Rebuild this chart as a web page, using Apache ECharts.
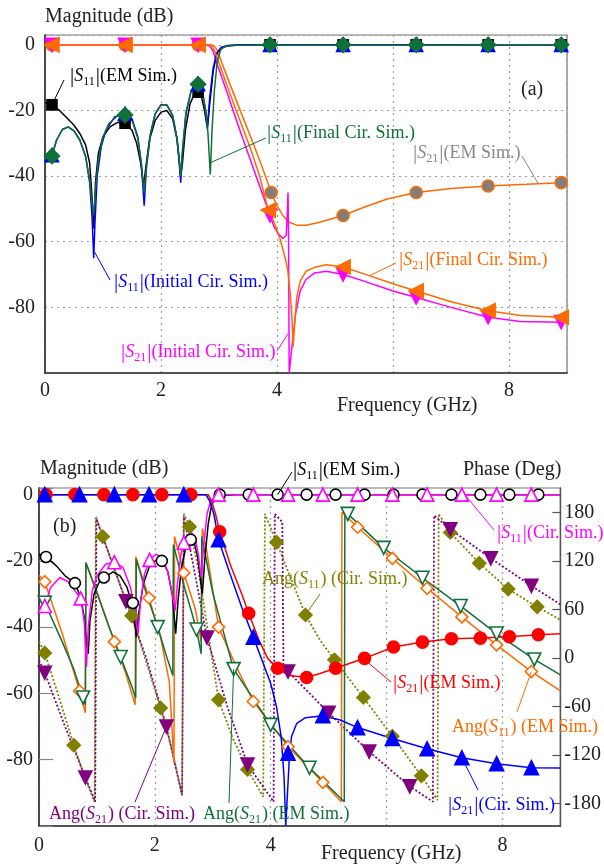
<!DOCTYPE html>
<html><head><meta charset="utf-8">
<script src="https://cdn.jsdelivr.net/npm/echarts@6.0.0/dist/echarts.min.js"></script>
<style>html,body{margin:0;padding:0;background:#fff}#c{width:604px;height:865px}</style>
</head><body><div id="c"></div><script>
// ---------- panel (a): magnitude responses ----------
const aS11Em = [[0,-17.6],[0.12,-18.3],[0.25,-20],[0.38,-22.3],[0.5,-24.5],[0.6,-27],[0.7,-30.5],[0.77,-36],[0.81,-46],[0.84,-56],[0.87,-42],[0.92,-33],[1.0,-28],[1.12,-25],[1.25,-23.6],[1.38,-23.9],[1.5,-26],[1.58,-30],[1.65,-36],[1.7,-43],[1.74,-37],[1.8,-29],[1.9,-23],[2.0,-20.5],[2.1,-20],[2.2,-22.5],[2.28,-29],[2.34,-40],[2.37,-36],[2.42,-26],[2.5,-18],[2.58,-14.8],[2.64,-14.4],[2.7,-16],[2.75,-20],[2.8,-25.5],[2.84,-18],[2.9,-8],[2.96,-3],[3.04,-1],[3.15,-0.3],[3.4,0],[9,0]];
const aS11Init = [[0,-35.5],[0.06,-34.8],[0.12,-33.6],[0.2,-29],[0.3,-25.8],[0.4,-25],[0.5,-26.2],[0.6,-29],[0.7,-34],[0.77,-42],[0.81,-52],[0.84,-65],[0.86,-55],[0.9,-40],[0.97,-31],[1.05,-26],[1.2,-22],[1.38,-21],[1.5,-22.5],[1.6,-28],[1.66,-36],[1.71,-49],[1.75,-37],[1.82,-27],[1.9,-21],[2.0,-18.3],[2.1,-18.3],[2.2,-21.5],[2.27,-28],[2.31,-35],[2.34,-42],[2.37,-33],[2.43,-21],[2.52,-14],[2.6,-11.8],[2.66,-12],[2.72,-15],[2.77,-20],[2.8,-25],[2.84,-16],[2.9,-7],[2.96,-2.5],[3.04,-0.7],[3.15,-0.2],[3.4,0],[9,0]];
const aS11Final = [[0,-36],[0.06,-35],[0.12,-33.9],[0.2,-29],[0.3,-25.8],[0.4,-25],[0.5,-26.2],[0.6,-29],[0.7,-34],[0.77,-41],[0.81,-48],[0.84,-52],[0.87,-44],[0.92,-35],[1.0,-28],[1.1,-24],[1.25,-21.6],[1.38,-21.4],[1.5,-23],[1.6,-28.5],[1.66,-36],[1.71,-45],[1.75,-37],[1.82,-27],[1.9,-21],[2.0,-18.2],[2.1,-18.3],[2.2,-21.5],[2.27,-28],[2.31,-34],[2.34,-40],[2.37,-32],[2.43,-20.5],[2.52,-14],[2.6,-12],[2.66,-12.1],[2.72,-15],[2.77,-20],[2.81,-27],[2.85,-39.5],[2.88,-26],[2.92,-14],[2.97,-5],[3.03,-1.5],[3.1,-0.5],[3.3,-0.1],[9,0]];
const aS21Em = [[0,0],[2.88,0],[2.93,-0.6],[2.98,-2],[3.05,-5.5],[3.2,-12.5],[3.4,-21.5],[3.6,-30.5],[3.75,-37.5],[3.9,-45],[4.0,-49],[4.1,-52],[4.2,-54],[4.35,-55],[4.5,-55],[4.7,-54.2],[4.9,-53.2],[5.14,-52],[5.5,-49.5],[5.9,-47],[6.4,-45],[7.0,-43.8],[7.64,-43],[8.3,-42.5],[8.9,-42],[9,-41.9]];
const aS21Final = [[0,0],[2.83,0],[2.88,-0.6],[2.93,-2],[3.0,-5.5],[3.15,-13],[3.35,-22.5],[3.55,-32],[3.7,-40],[3.85,-50.4],[3.95,-54],[4.05,-59],[4.12,-63.5],[4.18,-68],[4.23,-76],[4.26,-84],[4.28,-92],[4.3,-86],[4.34,-77],[4.4,-72],[4.5,-69],[4.65,-67.8],[4.85,-67],[5.14,-67.7],[5.5,-69.8],[6.0,-72.8],[6.4,-75],[7.0,-78.3],[7.64,-81],[8.2,-82.5],[8.9,-83],[9,-83]];
const aS21Init = [[0,0],[2.8,0],[2.85,-0.6],[2.9,-2],[2.97,-6],[3.12,-13.5],[3.3,-23],[3.5,-33],[3.68,-42],[3.8,-48],[3.88,-52],[3.95,-55.5],[4.02,-57.5],[4.1,-59],[4.16,-58],[4.18,-50],[4.19,-45],[4.2,-60],[4.21,-100],[4.23,-100],[4.27,-90],[4.32,-82],[4.4,-75],[4.5,-71.5],[4.65,-69.5],[4.85,-69],[5.14,-70],[5.5,-72],[6.0,-75],[6.4,-77],[7.0,-80],[7.64,-83],[8.2,-84.3],[8.9,-84.5],[9,-84.5]];
// marker points of panel (a)
const aS11EmMk = [[0.12,-18.3],[1.38,-23.9],[2.64,-14.4],[3.88,0],[5.14,0],[6.4,0],[7.64,0],[8.9,0]];
const aS11InitMk = [[0.12,-33.6],[1.38,-21],[2.64,-12],[3.88,0],[5.14,0],[6.4,0],[7.64,0],[8.9,0]];
const aS11FinalMk = [[0.12,-33.9],[1.38,-21.4],[2.64,-12],[3.88,0],[5.14,0],[6.4,0],[7.64,0],[8.9,0]];
const aS21EmMk = [[0.12,0],[1.38,0],[2.64,0],[3.9,-45],[5.14,-52],[6.4,-45],[7.64,-43],[8.9,-42]];
const aS21FinalMk = [[0.12,0],[1.38,0],[2.64,0],[3.85,-50.4],[5.14,-67.7],[6.4,-75],[7.64,-81],[8.9,-83]];
const aS21InitMk = [[0.12,0],[1.38,0],[2.64,0],[3.88,-52],[5.14,-70],[6.4,-77],[7.64,-83],[8.9,-84.5]];

// ---------- panel (b): magnitude and phase ----------
const bS11Em = [[0,-18],[0.12,-18.8],[0.3,-21.5],[0.45,-24.5],[0.62,-26.7],[0.72,-31],[0.78,-37],[0.82,-45],[0.85,-48],[0.88,-38],[0.95,-30],[1.05,-26],[1.12,-25],[1.28,-23.3],[1.4,-24.5],[1.52,-28],[1.6,-32.7],[1.65,-38],[1.68,-43],[1.72,-36],[1.8,-27],[1.9,-22],[2.0,-20],[2.12,-20],[2.22,-23],[2.3,-30],[2.36,-42],[2.4,-32],[2.46,-22],[2.54,-15.5],[2.62,-13.6],[2.68,-14.5],[2.74,-19],[2.79,-26],[2.82,-30],[2.86,-20],[2.92,-9],[2.98,-3],[3.06,-0.8],[3.2,-0.2],[3.4,0],[9,0]];
const bS11Cir = [[0,-34],[0.1,-33.6],[0.2,-28],[0.36,-25],[0.5,-26.3],[0.62,-29],[0.72,-31.3],[0.78,-38],[0.82,-52],[0.85,-40],[0.92,-29],[1.0,-24.5],[1.15,-21],[1.3,-20.4],[1.45,-22],[1.58,-28],[1.66,-36],[1.71,-42],[1.75,-33],[1.82,-24],[1.91,-19.7],[2.02,-18],[2.12,-19],[2.22,-23],[2.3,-30],[2.35,-35],[2.39,-27],[2.45,-18],[2.5,-14.5],[2.58,-12],[2.64,-11.5],[2.7,-13.5],[2.75,-18],[2.8,-25],[2.84,-16],[2.9,-6],[2.96,-2],[3.04,-0.5],[3.2,0],[9,0]];
const bS21Em = [[0,0],[2.92,0],[2.98,-2],[3.05,-6],[3.12,-11.2],[3.3,-21],[3.5,-30],[3.62,-35.8],[3.8,-44],[3.95,-49.5],[4.12,-52.4],[4.3,-54.5],[4.62,-55.2],[4.85,-54],[5.12,-52.4],[5.62,-49.4],[6.12,-46],[6.62,-44.5],[7.12,-43.5],[7.62,-43.3],[8.12,-42.9],[8.62,-42.3],[9,-42]];
const bS21Cir = [[0,0],[2.88,0],[2.95,-2],[3.02,-6],[3.1,-13.6],[3.3,-24],[3.5,-34],[3.7,-43],[3.85,-50],[4.0,-57],[4.1,-64],[4.18,-73],[4.23,-85],[4.26,-100],[4.29,-100],[4.32,-80],[4.36,-73],[4.45,-69],[4.6,-67.3],[4.9,-66.7],[5.2,-68],[5.5,-70.3],[6.1,-73.6],[6.7,-76.7],[7.3,-79.4],[7.9,-81.2],[8.5,-82.4],[9,-82.5]];
const bAngS11Cir = [[0,20],[0.1,6],[0.35,-50],[0.6,-108],[0.8,-150],[0.96,-178],[0.98,175],[1.1,150],[1.35,100],[1.6,52],[1.85,-5],[2.1,-62],[2.3,-115],[2.47,-170],[2.5,178],[2.6,162],[2.75,110],[2.9,40],[3.1,-52],[3.35,-100],[3.6,-138],[3.87,-172],[3.9,178],[4.1,143],[4.35,98],[4.6,53],[4.85,22],[5.1,-2.5],[5.6,-49],[6.1,-97],[6.6,-146],[6.88,-176],[6.9,178],[7.1,155],[7.6,117],[8.1,85],[8.6,63],[9,47]];
const bAngS11Em = [[0,102],[0.1,94],[0.4,30],[0.7,-41],[0.8,-68],[0.81,117],[1.0,82],[1.3,20],[1.5,-20],[1.66,-58],[1.67,125],[1.9,74],[2.1,25],[2.25,-30],[2.33,-130],[2.34,150],[2.5,105],[2.7,60],[2.8,20],[2.82,160],[2.9,130],[3.1,38],[3.4,-10],[3.7,-54],[4.3,-110],[4.9,-154],[5.22,-178],[5.23,180],[5.5,161.5],[6.1,123],[6.7,86],[7.3,50.6],[7.9,16],[8.5,-17],[9,-41]];
const bAngS21Cir = [[0,-3],[0.1,-18.5],[0.45,-85],[0.8,-148],[0.97,-178],[0.99,172],[1.5,70],[1.85,0],[2.2,-85],[2.47,-170],[2.5,176],[2.9,25],[3.25,-60],[3.6,-132],[4.05,-178],[4.07,178],[4.2,168],[4.22,-8],[4.3,-17],[5.0,-68],[5.7,-116],[6.4,-159],[6.8,-178],[6.82,176],[7.1,159],[7.8,123],[8.5,89],[9,66]];
const bAngS21Em = [[0,76],[0.1,68],[0.4,20],[0.6,-14],[0.76,-49],[0.8,-58],[0.81,118],[1.0,80],[1.2,40],[1.41,1],[1.6,-35],[1.67,-50],[1.68,122],[1.85,80],[2.05,38],[2.2,2],[2.31,-22],[2.32,140],[2.5,90],[2.72,35],[2.8,5],[2.81,150],[3.0,80],[3.36,-14],[4.0,-83],[4.67,-136],[5.27,-178],[5.28,180],[5.33,178],[5.95,136],[6.62,99],[7.28,64],[7.9,30],[8.55,-2],[9,-21]];
// marker points of panel (b)
const bS11EmMk = [[0.12,-18.8],[0.62,-26.7],[1.12,-25],[1.62,-32.7],[2.12,-20],[2.62,-13.6],[3.12,0],[3.62,0],[4.12,0],[4.62,0],[5.12,0],[5.62,0],[6.12,0],[6.62,0],[7.12,0],[7.62,0],[8.12,0],[8.62,0]];
const bS11CirMk = [[0.1,-33.6],[0.72,-31.3],[1.3,-20.4],[1.91,-19.7],[2.5,-14.5],[3.1,0],[3.7,0],[4.3,0],[4.9,0],[5.5,0],[6.1,0],[6.7,0],[7.3,0],[7.9,0],[8.5,0]];
const bS21EmMk = [[0.12,0],[0.62,0],[1.12,0],[1.62,0],[2.12,0],[2.62,0],[3.12,-11.2],[3.62,-35.8],[4.12,-52.4],[4.62,-55.2],[5.12,-52.4],[5.62,-49.4],[6.12,-46],[6.62,-44.5],[7.12,-43.5],[7.62,-43.3],[8.12,-42.9],[8.62,-42.3]];
const bS21CirMk = [[0.1,0],[0.7,0],[1.3,0],[1.9,0],[2.5,0],[3.1,-13.6],[3.7,-43],[4.3,-78],[4.9,-66.7],[5.5,-70.3],[6.1,-73.6],[6.7,-76.7],[7.3,-79.4],[7.9,-81.2],[8.5,-82.4]];
const bAngS11CirMk = [[0.1,6],[0.6,-108],[1.1,150],[1.6,52],[2.1,-62],[2.6,162],[3.1,-52],[3.6,-138],[4.1,143],[4.6,53],[5.1,-2.5],[5.6,-49],[6.1,-97],[6.6,-146],[7.1,155],[7.6,117],[8.1,85],[8.6,63]];
const bAngS11EmMk = [[0.1,94],[0.7,-41],[1.3,20],[1.9,74],[2.5,105],[3.1,38],[3.7,-54],[4.3,-110],[4.9,-154],[5.5,161.5],[6.1,123],[6.7,86],[7.3,50.6],[7.9,16],[8.5,-17]];
const bAngS21CirMk = [[0.1,-18.5],[0.8,-148],[1.5,70],[2.2,-85],[2.9,25],[3.6,-132],[4.3,-17],[5.0,-68],[5.7,-116],[6.4,-159],[7.1,159],[7.8,123],[8.5,89]];
const bAngS21EmMk = [[0.1,68],[0.76,-49],[1.41,1],[2.05,38],[2.72,35],[3.36,-14],[4.0,-83],[4.67,-136],[5.33,178],[5.95,136],[6.62,99],[7.28,64],[7.9,30],[8.55,-2]];

// tick label sets
const freqTicks = [0, 2, 4, 8];
const dbTicks = [0, -20, -40, -60, -80];
const phaseTicks = [-180, -120, -60, 0, 60, 120, 180];

const FONT = "'Liberation Serif','Times New Roman',serif";
const C = {black:'#000000', blue:'#0000ff', green:'#10703a', orange:'#ff6a00', magenta:'#ff00ff',
  gray:'#7f7f7f', red:'#ff0000', olive:'#808000', purple:'#800080', axis:'#333333'};

const chart = echarts.init(document.getElementById('c'), null, {renderer:'canvas'});

function line(data, color, xi, yi, z, dash) {
  return {type:'line', data, xAxisIndex:xi, yAxisIndex:yi, showSymbol:false, symbol:'none',
    lineStyle:{color, width: dash ? 1.8 : 1.5, type: dash ? [2,2] : 'solid'}, z, silent:true, animation:false};
}
function marks(data, xi, yi, symbol, size, fill, stroke, rot, z) {
  return {type:'scatter', data, xAxisIndex:xi, yAxisIndex:yi, symbol, symbolSize:size, symbolRotate:rot||0,
    itemStyle:{color:fill, borderColor:stroke, borderWidth:1.6, opacity:1}, z, silent:true, animation:false};
}
const labelFmt = set => v => set.includes(v) ? String(v) : '';
const axisLbl = set => ({formatter: labelFmt(set), fontFamily:FONT, fontSize:20, color:'#222'});

const option = {
  backgroundColor:'#fff', animation:false,
  grid:[
    {left:45, top:35, width:522, height:338, show:true, borderColor:'#777', borderWidth:1.2, containLabel:false},
    {left:39, top:488, width:522, height:338, show:true, borderColor:'#777', borderWidth:1.2, containLabel:false}
  ],
  xAxis:[
    {gridIndex:0, type:'value', min:0, max:9, interval:2,
     axisLine:{show:true, onZero:false, lineStyle:{color:C.axis, width:1.6}}, axisTick:{show:false},
     axisLabel:{...axisLbl(freqTicks), margin:8},
     splitLine:{show:true, lineStyle:{type:[2,4], color:'#9a9a9a', width:1.2}}},
    {gridIndex:1, type:'value', min:0, max:9, interval:2,
     axisLine:{show:true, onZero:false, lineStyle:{color:C.axis, width:1.6}}, axisTick:{show:false},
     axisLabel:{...axisLbl(freqTicks), margin:10},
     splitLine:{show:true, lineStyle:{type:[2,4], color:'#9a9a9a', width:1.2}}}
  ],
  yAxis:[
    {gridIndex:0, type:'value', min:-100, max:3, interval:20,
     axisLine:{show:true, onZero:false, lineStyle:{color:C.axis, width:1.6}}, axisTick:{show:false},
     axisLabel:{...axisLbl(dbTicks), margin:10},
     splitLine:{show:true, lineStyle:{type:[2,4], color:'#9a9a9a', width:1.2}}},
    {gridIndex:1, type:'value', min:-100, max:2, interval:20, position:'left',
     axisLine:{show:true, onZero:false, lineStyle:{color:C.axis, width:1.6}},
     axisTick:{show:true, inside:true, length:14, lineStyle:{color:'#888', width:1.2}},
     axisLabel:{...axisLbl(dbTicks), margin:6}, splitLine:{show:false}},
    {gridIndex:1, type:'value', min:-208, max:210, position:'right',
     axisLine:{show:true, onZero:false, lineStyle:{color:'#555', width:1.4}},
     axisTick:{show:true, inside:true, length:8, customValues:phaseTicks, lineStyle:{color:'#555', width:1.2}},
     axisLabel:{customValues:phaseTicks, fontFamily:FONT, fontSize:20, color:'#222', margin:4},
     splitLine:{show:false}}
  ],
  series:[
    // panel (a) curves
    line(aS11Em, C.black, 0, 0, 3),
    line(aS11Init, C.blue, 0, 0, 4),
    line(aS11Final, C.green, 0, 0, 5),
    line(aS21Em, C.orange, 0, 0, 3),
    line(aS21Init, C.magenta, 0, 0, 3),
    line(aS21Final, C.orange, 0, 0, 4),
    marks(aS11EmMk, 0, 0, 'rect', 10, C.black, C.black, 0, 6),
    marks(aS11InitMk, 0, 0, 'triangle', 13, C.blue, C.blue, 0, 7),
    marks(aS11FinalMk, 0, 0, 'diamond', 15, C.green, C.green, 0, 8),
    marks(aS21EmMk, 0, 0, 'circle', 12, C.gray, C.orange, 0, 6),
    marks(aS21InitMk, 0, 0, 'triangle', 13, C.magenta, C.magenta, 180, 7),
    marks(aS21FinalMk, 0, 0, 'triangle', 14, C.orange, C.orange, 90, 8),
    // panel (b) phase curves (right axis)
    line(bAngS11Cir, C.olive, 1, 2, 3, true),
    line(bAngS21Cir, C.purple, 1, 2, 3, true),
    line(bAngS11Em, C.orange, 1, 2, 4),
    line(bAngS21Em, C.green, 1, 2, 4),
    // panel (b) magnitude curves (left axis)
    line(bS11Em, C.black, 1, 1, 5),
    line(bS11Cir, C.magenta, 1, 1, 5),
    line(bS21Em, C.red, 1, 1, 5),
    line(bS21Cir, C.blue, 1, 1, 5),
    marks(bAngS11CirMk, 1, 2, 'diamond', 13, C.olive, C.olive, 0, 6),
    marks(bAngS21CirMk, 1, 2, 'triangle', 13, C.purple, C.purple, 180, 6),
    marks(bAngS11EmMk, 1, 2, 'diamond', 12, '#fff', C.orange, 0, 6),
    marks(bAngS21EmMk, 1, 2, 'triangle', 13, '#fff', C.green, 180, 6),
    marks(bS11EmMk, 1, 1, 'circle', 11, '#fff', C.black, 0, 7),
    marks(bS11CirMk, 1, 1, 'triangle', 13, '#fff', C.magenta, 0, 8),
    marks(bS21EmMk, 1, 1, 'circle', 12, C.red, C.red, 0, 8),
    marks(bS21CirMk, 1, 1, 'triangle', 14, C.blue, C.blue, 0, 9)
  ]
};
chart.setOption(option);

// ---------- text annotations and leader lines ----------
const rich = color => ({
  n:{fontFamily:FONT, fontSize:18, lineHeight:24, fill:color, color},
  s:{fontFamily:FONT, fontSize:18, lineHeight:24, fontStyle:'italic', fill:color, color},
  u:{fontFamily:FONT, fontSize:12, lineHeight:11, fill:color, color, verticalAlign:'bottom', padding:[0,1,0,0]},
  b:{fontFamily:FONT, fontSize:21, lineHeight:24, fill:color, color}
});
const mag = (sub, tail) => `{b||}{s|S}{u|${sub}}{b||}{n|${tail}}`;
const ang = (sub, tail) => `{n|Ang(}{s|S}{u|${sub}}{n|)${tail}}`;

// [text, colour, x, y, leader start, leader target (data), axes]
const notes = [
  [mag('11','(EM Sim.)'), C.black, 70, 76, [64,80], [0.12,-18.3], {gridIndex:0}],
  [mag('11','(Final Cir. Sim.)'), C.green, 267, 133, [266,138], [2.84,-36], {gridIndex:0}],
  [mag('21','(EM Sim.)'), '#888888', 413, 153, [522,156], [8.5,-42.2], {gridIndex:0}],
  [mag('11','(Initial Cir. Sim.)'), C.blue, 114, 282, [110,280], [0.85,-63], {gridIndex:0}],
  [mag('21','(Final Cir. Sim.)'), C.orange, 399, 260, [396,263], [5.6,-70.3], {gridIndex:0}],
  [mag('21','(Initial Cir. Sim.)'), C.magenta, 121, 352, [277,351], [4.19,-88], {gridIndex:0}],
  [mag('11','(EM Sim.)'), C.black, 293, 470, [292,472], [4.12,0], {xAxisIndex:1, yAxisIndex:1}],
  [mag('11','(Cir. Sim.)'), C.magenta, 497, 533, [494,530], [7.35,0], {xAxisIndex:1, yAxisIndex:1}],
  [ang('11',' (Cir. Sim.)'), C.olive, 262, 579, [320,594], [4.6,53], {xAxisIndex:1, yAxisIndex:2}],
  [mag('21','(EM Sim.)'), C.red, 393, 683, [391,682], [5.6,-49.5], {xAxisIndex:1, yAxisIndex:1}],
  [ang('11',' (EM Sim.)'), C.orange, 452, 727, [517,712], [8.5,-17], {xAxisIndex:1, yAxisIndex:2}],
  [mag('21','(Cir. Sim.)'), C.blue, 448, 805, [478,790], [7.3,-79.4], {xAxisIndex:1, yAxisIndex:1}],
  [ang('21',' (Cir. Sim.)'), C.purple, 49, 814, [135,802], [2.2,-85], {xAxisIndex:1, yAxisIndex:2}],
  [ang('21',' (EM Sim.)'), C.green, 203, 814, [229,803], [3.36,-14], {xAxisIndex:1, yAxisIndex:2}]
];

const graphic = [];
const plain = (text, x, y, size) => ({type:'text', x, y, z:50, silent:true,
  style:{text, fontFamily:FONT, fontSize:size, fill:'#222', align:'left', verticalAlign:'middle'}});
graphic.push(plain('Magnitude (dB)', 45, 17, 20));
graphic.push(plain('Frequency (GHz)', 337, 406, 20));
graphic.push(plain('(a)', 521, 90, 20));
graphic.push(plain('Magnitude (dB)', 40, 469, 20));
graphic.push(plain('Phase (Deg)', 463, 470, 20));
graphic.push(plain('Frequency (GHz)', 321, 854, 20));
graphic.push(plain('(b)', 53, 527, 20));

notes.forEach(([text, color, x, y, from, target, finder]) => {
  const p = chart.convertToPixel(finder, target);
  graphic.push({type:'line', z:40, silent:true, shape:{x1:from[0], y1:from[1], x2:p[0], y2:p[1]},
    style:{stroke:color, lineWidth:1}});
  graphic.push({type:'text', x, y, z:50, silent:true,
    style:{text, rich:rich(color), fill:color, fontFamily:FONT, fontSize:18, align:'left', verticalAlign:'middle'}});
});
chart.setOption({graphic});
</script></body></html>
